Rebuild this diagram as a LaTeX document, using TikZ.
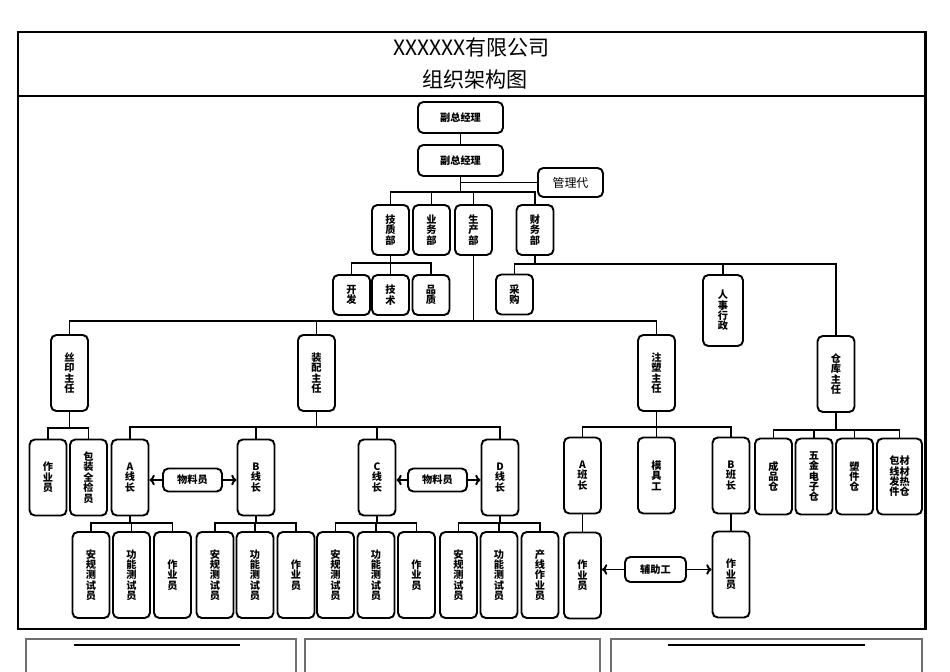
\documentclass[tikz,border=0pt]{standalone}
\usepackage{fontspec}
\usetikzlibrary{arrows.meta}
\setmainfont{Noto Sans CJK SC}
\definecolor{orgLine}{HTML}{000000}
\definecolor{orgGrey}{HTML}{6E6E6E}
\newcommand\boxfont{\fontsize{5.8}{5.9}\selectfont\bfseries\lineskiplimit=-5pt}

\begin{document}
\begin{tikzpicture}[x=0.02cm, y=-0.02cm,
  orgbox/.style={draw=orgLine, line width=1.1pt, rounded corners=3pt,
    inner sep=0pt, align=center, font=\boxfont},
  gmbox/.style={orgbox, minimum width=1.70cm, minimum height=0.62cm},
  deptbox/.style={orgbox, minimum width=0.74cm, minimum height=1.00cm},
  smallbox/.style={orgbox, minimum width=0.74cm, minimum height=0.80cm},
  tallbox/.style={orgbox, minimum width=0.74cm, minimum height=1.52cm},
  longbox/.style={orgbox, minimum width=0.74cm, minimum height=1.72cm},
  tagbox/.style={orgbox, minimum height=0.46cm},
  link/.style={draw=orgLine, line width=1.1pt},
  sidearrow/.style={link, -{To[length=3pt, width=6pt]}},
]
\useasboundingbox (0,0) rectangle (950,672);

% --- FRAME + TITLE ---
\draw[line width=1.7pt] (18,32) rectangle (925,629);
\draw[line width=1.7pt] (18,96) -- (925,96);
\node[font=\fontsize{12}{14}\selectfont] (title) at (471.5,47) {XXXXXX有限公司};
\node[font=\fontsize{12}{14}\selectfont] (subtitle) at (475,80) {组织架构图};

% --- TOP MANAGEMENT ---
\node[gmbox] (gm1) at (460.5,117.5) {副总经理};
\node[gmbox] (gm2) at (460.5,160.5) {副总经理};
\node[orgbox, font=\fontsize{6.8}{8}\selectfont, minimum width=1.30cm,
  minimum height=0.58cm] (mgr) at (570.5,182.5) {管理代};
\draw[link] (gm1) -- (gm2);
\draw[link] (gm2.south) |- (mgr.west);
\coordinate (deptBus) at (460.5,192);
\draw[link] (gm2.south) -- (deptBus);

% --- DEPARTMENTS ---
\foreach \nm/\cx/\lbl in {jz/390.5/技\\质\\部, yw/431.5/业\\务\\部,
                          sc/473.5/生\\产\\部, cw/535/财\\务\\部} {
  \node[deptbox] (\nm) at (\cx,230) {\lbl};
  \draw[link] (deptBus) -| (\nm.north);
}

% technical / quality
\coordinate (jzBus) at (390.5,263);
\draw[link] (jz.south) -- (jzBus);
\foreach \nm/\cx/\lbl in {kf/351.5/开\\发, js/390.5/技\\术, pz/431/品\\质} {
  \node[smallbox] (\nm) at (\cx,295) {\lbl};
  \draw[link] (jzBus) -| (\nm.north);
}

% finance
\coordinate (cwBus) at (535,264);
\draw[link] (cw.south) -- (cwBus);
\node[smallbox] (cg) at (514.5,294.5) {采\\购};
\node[orgbox, minimum width=0.80cm, minimum height=1.42cm] (rs) at (723,310.5) {人\\事\\行\\政};
\node[tallbox] (ck) at (836,374) {仓\\库\\主\\任};
\foreach \nm in {cg, rs, ck} \draw[link] (cwBus) -| (\nm.north);

% --- PRODUCTION ---
\coordinate (scBus) at (473.5,321);
\draw[link] (sc.south) -- (scBus);
\foreach \nm/\cx/\lbl in {sy/69.5/丝\\印\\主\\任, zp/316.5/装\\配\\主\\任,
                          zs/656.5/注\\塑\\主\\任} {
  \node[tallbox] (\nm) at (\cx,373) {\lbl};
  \draw[link] (scBus) -| (\nm.north);
}

% silk print
\coordinate (syBus) at (69.5,428);
\draw[link] (sy.south) -- (syBus);
\foreach \nm/\cx/\lbl in {sy1/48/作\\业\\员, sy2/88.5/包\\装\\全\\检\\员} {
  \node[tallbox] (\nm) at (\cx,477.5) {\lbl};
  \draw[link] (syBus) -| (\nm.north);
}

% assembly lines A-D
\coordinate (zpBus) at (316.5,427);
\draw[link] (zp.south) -- (zpBus);
\foreach \nm/\cx/\lbl in {la/130/A, lb/256/B, lc/377/C, ld/500/D} {
  \node[tallbox] (\nm) at (\cx,477.5) {\lbl\\线\\长};
  \coordinate (\nm-bus) at (\cx,523);
  \draw[link] (zpBus) -| (\nm.north);
  \draw[link] (\nm.south) -- (\nm-bus);
}
\node[tagbox, minimum width=1.18cm] (wl1) at (192.5,480) {物料员};
\node[tagbox, minimum width=1.18cm] (wl2) at (437.5,480) {物料员};
\draw[sidearrow] (wl1.west) -- (wl1.west -| la.east);
\draw[sidearrow] (wl1.east) -- (wl1.east -| lb.west);
\draw[sidearrow] (wl2.west) -- (wl2.west -| lc.east);
\draw[sidearrow] (wl2.east) -- (wl2.east -| ld.west);

\foreach \nm/\cx/\up/\lbl in {
    wa1/91/la/安\\规\\测\\试\\员, wa2/131.5/la/功\\能\\测\\试\\员, wa3/172.5/la/作\\业\\员,
    wb1/215/lb/安\\规\\测\\试\\员, wb2/255/lb/功\\能\\测\\试\\员, wb3/296/lb/作\\业\\员,
    wc1/335.5/lc/安\\规\\测\\试\\员, wc2/376/lc/功\\能\\测\\试\\员, wc3/416.5/lc/作\\业\\员,
    wd1/458.5/ld/安\\规\\测\\试\\员, wd2/499/ld/功\\能\\测\\试\\员, wd3/540/ld/产\\线\\作\\业\\员} {
  \node[longbox] (\nm) at (\cx,575) {\lbl};
  \draw[link] (\up-bus) -| (\nm.north);
}

% injection moulding
\coordinate (zsBus) at (656.5,427);
\draw[link] (zs.south) -- (zsBus);
\foreach \nm/\cx/\lbl in {ba/582.5/A\\班\\长, mj/656.5/模\\具\\工, bb/731/B\\班\\长} {
  \node[tallbox] (\nm) at (\cx,475.5) {\lbl};
  \draw[link] (zsBus) -| (\nm.north);
}
\node[longbox] (za) at (582.5,575.5) {作\\业\\员};
\node[longbox] (zb) at (731,574.5) {作\\业\\员};
\draw[link] (ba) -- (za);
\draw[link] (bb) -- (zb);
\node[tagbox, minimum width=1.22cm, minimum height=0.50cm] (fz) at (655.5,569.5) {辅助工};
\draw[sidearrow] (fz.west) -- (fz.west -| za.east);
\draw[sidearrow] (fz.east) -- (fz.east -| zb.west);

% warehouse
\coordinate (ckBus) at (836,430);
\draw[link] (ck.south) -- (ckBus);
\foreach \nm/\cx/\lbl in {cp/773.5/成\\品\\仓, wj/814/五\\金\\电\\子\\仓, sj/854.5/塑\\件\\仓} {
  \node[tallbox] (\nm) at (\cx,476.5) {\lbl};
  \draw[link] (ckBus) -| (\nm.north);
}
\node[tallbox, minimum width=0.90cm] (bc) at (899.5,476.5) {包材\\线材\\发热\\件仓};
\draw[link] (ckBus) -| (bc.north);

% --- NEXT TABLE (cut off) ---
\draw[orgGrey, line width=0.7pt] (26,672) -- (26,639) -- (296,639) -- (296,672);
\draw[orgGrey, line width=0.7pt] (305,672) -- (305,639) -- (600,639) -- (600,672);
\draw[orgGrey, line width=0.7pt] (611,672) -- (611,639) -- (922,639) -- (922,672);
\draw[line width=0.8pt] (74,645) -- (240,645);
\draw[line width=0.8pt] (668,645) -- (865,645);

\end{tikzpicture}
\end{document}
